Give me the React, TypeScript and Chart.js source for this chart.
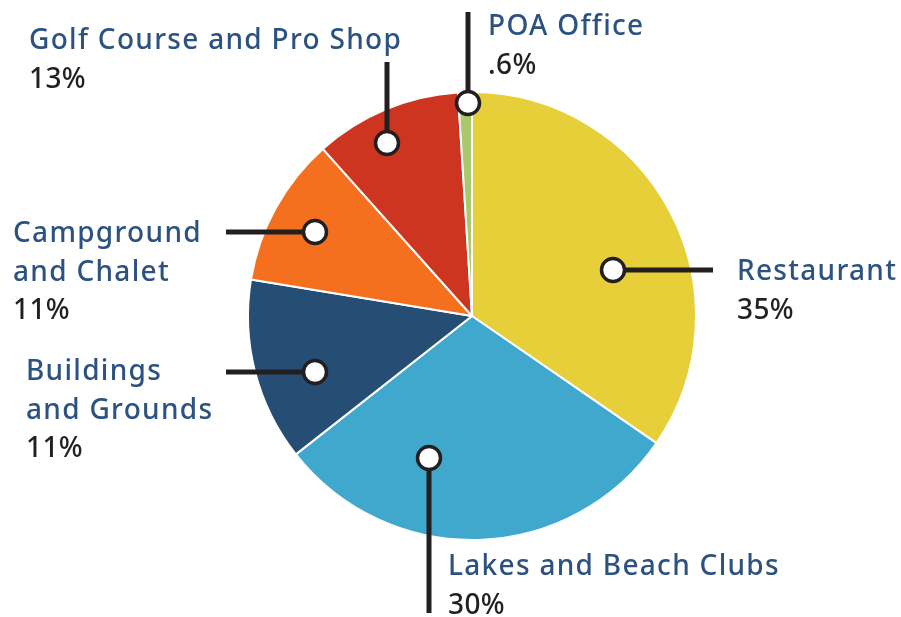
import React, { useEffect, useRef } from "react";
import { Chart, registerables } from "chart.js";

Chart.register(...registerables);

const categories = [
  "Restaurant",
  "Lakes and Beach Clubs",
  "Buildings and Grounds",
  "Campground and Chalet",
  "Golf Course and Pro Shop",
  "POA Office",
];
const values = [34.6, 29.8, 13.2, 10.8, 10.6, 1.0];
const percentLabels = ["35%", "30%", "11%", "11%", "13%", ".6%"];
const labelLines = [
  ["Restaurant"],
  ["Lakes and Beach Clubs"],
  ["Buildings", "and Grounds"],
  ["Campground", "and Chalet"],
  ["Golf Course and Pro Shop"],
  ["POA Office"],
];
const colors = ["#E7CF3A", "#3FA8CC", "#264E75", "#F4701F", "#CE3521", "#A9C96B"];

// layout of callouts, offsets from pie centre (px)
const callouts = [
  { c: [141, -46], e: [241, -46], tx: 265, ty: -36 },
  { c: [-43, 142], e: [-43, 297], tx: -24, ty: 259 },
  { c: [-157, 56], e: [-246, 56], tx: -446, ty: 64 },
  { c: [-157, -84], e: [-246, -84], tx: -459, ty: -74 },
  { c: [-85, -173], e: [-85, -254], tx: -443, ty: -267 },
  { c: [-4, -213], e: [-4, -304], tx: 16, ty: -281 },
];

const FONT = '500 28px "Noto Sans"';
const LINE_H = 38.5;

const calloutPlugin = {
  id: "callouts",
  afterDatasetsDraw(chart: any) {
    const ctx = chart.ctx;
    const meta = chart.getDatasetMeta(0);
    const arc = meta.data[0];
    if (!arc) return;
    const cx = arc.x;
    const cy = arc.y;
    ctx.save();
    callouts.forEach((co, i) => {
      ctx.strokeStyle = "#231F20";
      ctx.lineWidth = 5;
      ctx.lineCap = "butt";
      ctx.beginPath();
      ctx.moveTo(cx + co.c[0], cy + co.c[1]);
      ctx.lineTo(cx + co.e[0], cy + co.e[1]);
      ctx.stroke();
      ctx.beginPath();
      ctx.arc(cx + co.c[0], cy + co.c[1], 11.5, 0, Math.PI * 2);
      ctx.fillStyle = "#FFFFFF";
      ctx.fill();
      ctx.lineWidth = 3.5;
      ctx.stroke();
      ctx.font = FONT;
      ctx.textAlign = "left";
      ctx.textBaseline = "alphabetic";
      const lines = labelLines[i];
      ctx.letterSpacing = "1.3px";
      lines.forEach((t, j) => {
        ctx.fillStyle = "#2B5281";
        ctx.fillText(t, cx + co.tx, cy + co.ty + j * LINE_H);
      });
      ctx.letterSpacing = "0.4px";
      ctx.fillStyle = "#231F20";
      ctx.fillText(percentLabels[i], cx + co.tx, cy + co.ty + lines.length * LINE_H);
      ctx.letterSpacing = "0px";
    });
    ctx.restore();
  },
};

export default function App() {
  const ref = useRef<HTMLCanvasElement>(null);
  useEffect(() => {
    if (!ref.current) return;
    const chart = new Chart(ref.current, {
      type: "pie",
      data: {
        labels: categories,
        datasets: [
          {
            data: values,
            backgroundColor: colors,
            borderColor: "#FFFFFF",
            borderWidth: 2,
          },
        ],
      },
      options: {
        animation: false,
        responsive: true,
        maintainAspectRatio: false,
        layout: { padding: { left: 247, right: 204, top: 91, bottom: 76 } },
        plugins: {
          legend: { display: false },
          tooltip: { enabled: false },
        },
      },
      plugins: [calloutPlugin],
    });
    return () => chart.destroy();
  }, []);
  return (
    <div style={{ position: "fixed", left: 0, top: 0, width: 901, height: 617, background: "#FFFFFF" }}>
      <canvas ref={ref} />
    </div>
  );
}
